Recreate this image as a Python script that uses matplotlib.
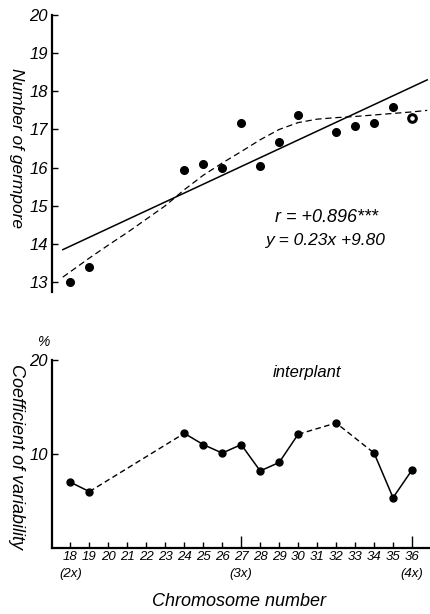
import matplotlib.pyplot as plt

plt.rcParams['font.family'] = ['Liberation Sans', 'DejaVu Sans']
plt.rcParams['font.style'] = 'italic'

# germpore number per chromosome number (upper panel)
chrom = [18, 19, 24, 25, 26, 27, 28, 29, 30, 32, 33, 34, 35]
germpore = [13.0, 13.4, 15.94, 16.09, 15.98, 17.18, 16.05, 16.67, 17.37, 16.94, 17.08, 17.18, 17.59]
chrom_open = [36]
germpore_open = [17.30]

# regression line end points (y = 0.23x + 9.80)
fit_x = [17.6, 36.8]
fit_y = [13.85, 18.30]

# fitted curve
curve_x = [17.6, 19, 20, 21, 22, 23, 24, 25, 26, 27, 28, 29, 30, 31, 32, 33, 34, 35, 36, 36.8]
curve_y = [13.13, 13.63, 13.97, 14.3, 14.65, 15.0, 15.42, 15.8, 16.12, 16.42, 16.73, 17.0, 17.18, 17.27, 17.31, 17.34, 17.38, 17.42, 17.46, 17.5]

# coefficient of variability (lower panel)
cv_x = [18, 19, 24, 25, 26, 27, 28, 29, 30, 32, 34, 35, 36]
cv_y = [7.0, 6.0, 12.2, 11.0, 10.1, 11.0, 8.2, 9.1, 12.1, 13.3, 10.1, 5.35, 8.3]
solid_runs = [(0, 2), (2, 9), (10, 13)]   # index ranges drawn solid
dashed_runs = [(1, 3), (8, 11)]          # index ranges drawn dashed

xticks = list(range(18, 37))
xlabels = [str(v) for v in xticks]
xlabels[0] = '18\n(2x)'
xlabels[9] = '27\n(3x)'
xlabels[18] = '36\n(4x)'

W, H = 431, 614
fig = plt.figure(figsize=(W / 100, H / 100), dpi=100)


def px(x, y):
    # pixel position from top-left -> figure fraction
    return x / W, 1 - y / H


ax1 = fig.add_axes([52 / W, 1 - 292 / H, 379 / W, 277 / H])
ax1.plot(chrom, germpore, 'o', color='black', ms=5.5)
ax1.plot(chrom_open, germpore_open, 'o', mfc='white', mec='black', mew=2.2, ms=5.5)
ax1.plot(fit_x, fit_y, '-', color='black', lw=1.1)
ax1.plot(curve_x, curve_y, '--', color='black', lw=0.9, dashes=(5, 3))
ax1.set_xlim(17.03, 37.0)
ax1.set_ylim(12.74, 20)
ax1.set_yticks(range(13, 21))
ax1.tick_params(axis='y', direction='in', length=4, width=1, labelsize=12, pad=3)
ax1.set_xticks([])
for s in ['top', 'right', 'bottom']:
    ax1.spines[s].set_visible(False)
ax1.spines['left'].set_linewidth(1.6)
fig.text(*px(16, 148), 'Number of germpore', rotation=270, fontsize=12.5,
         ha='center', va='center')
fig.text(*px(327, 218), 'r = +0.896***', fontsize=13, ha='center', va='center')
fig.text(*px(326, 241), 'y = 0.23x +9.80', fontsize=12.5, ha='center', va='center')

ax2 = fig.add_axes([52 / W, 1 - 548 / H, 379 / W, 188 / H])
for a, b in solid_runs:
    ax2.plot(cv_x[a:b], cv_y[a:b], '-', color='black', lw=1.1)
for a, b in dashed_runs:
    ax2.plot(cv_x[a:b], cv_y[a:b], '--', color='black', lw=1.0, dashes=(4, 2.5))
ax2.plot(cv_x, cv_y, 'o', color='black', ms=5)
ax2.set_xlim(17.03, 37.0)
ax2.set_ylim(0, 20)
ax2.set_yticks([10, 20])
ax2.tick_params(axis='y', direction='in', length=4, width=1, labelsize=12, pad=3)
ax2.set_xticks(xticks)
ax2.set_xticklabels(xlabels, linespacing=1.6)
ax2.tick_params(axis='x', direction='in', length=4, width=1, labelsize=9.5, pad=2)
for i in (9, 18):
    ax2.xaxis.get_major_ticks()[i].tick1line.set_markersize(9)
for s in ['top', 'right']:
    ax2.spines[s].set_visible(False)
ax2.spines['left'].set_linewidth(1.6)
ax2.spines['bottom'].set_linewidth(1.6)
fig.text(*px(16, 457), 'Coefficient of variability', rotation=270, fontsize=13,
         ha='center', va='center')
fig.text(*px(43, 342), '%', fontsize=10, ha='center', va='center')
fig.text(*px(307, 372), 'interplant', fontsize=12, ha='center', va='center')
fig.text(*px(239, 602), 'Chromosome number', fontsize=13, ha='center', va='center')

fig.savefig('out.png', dpi=100)
